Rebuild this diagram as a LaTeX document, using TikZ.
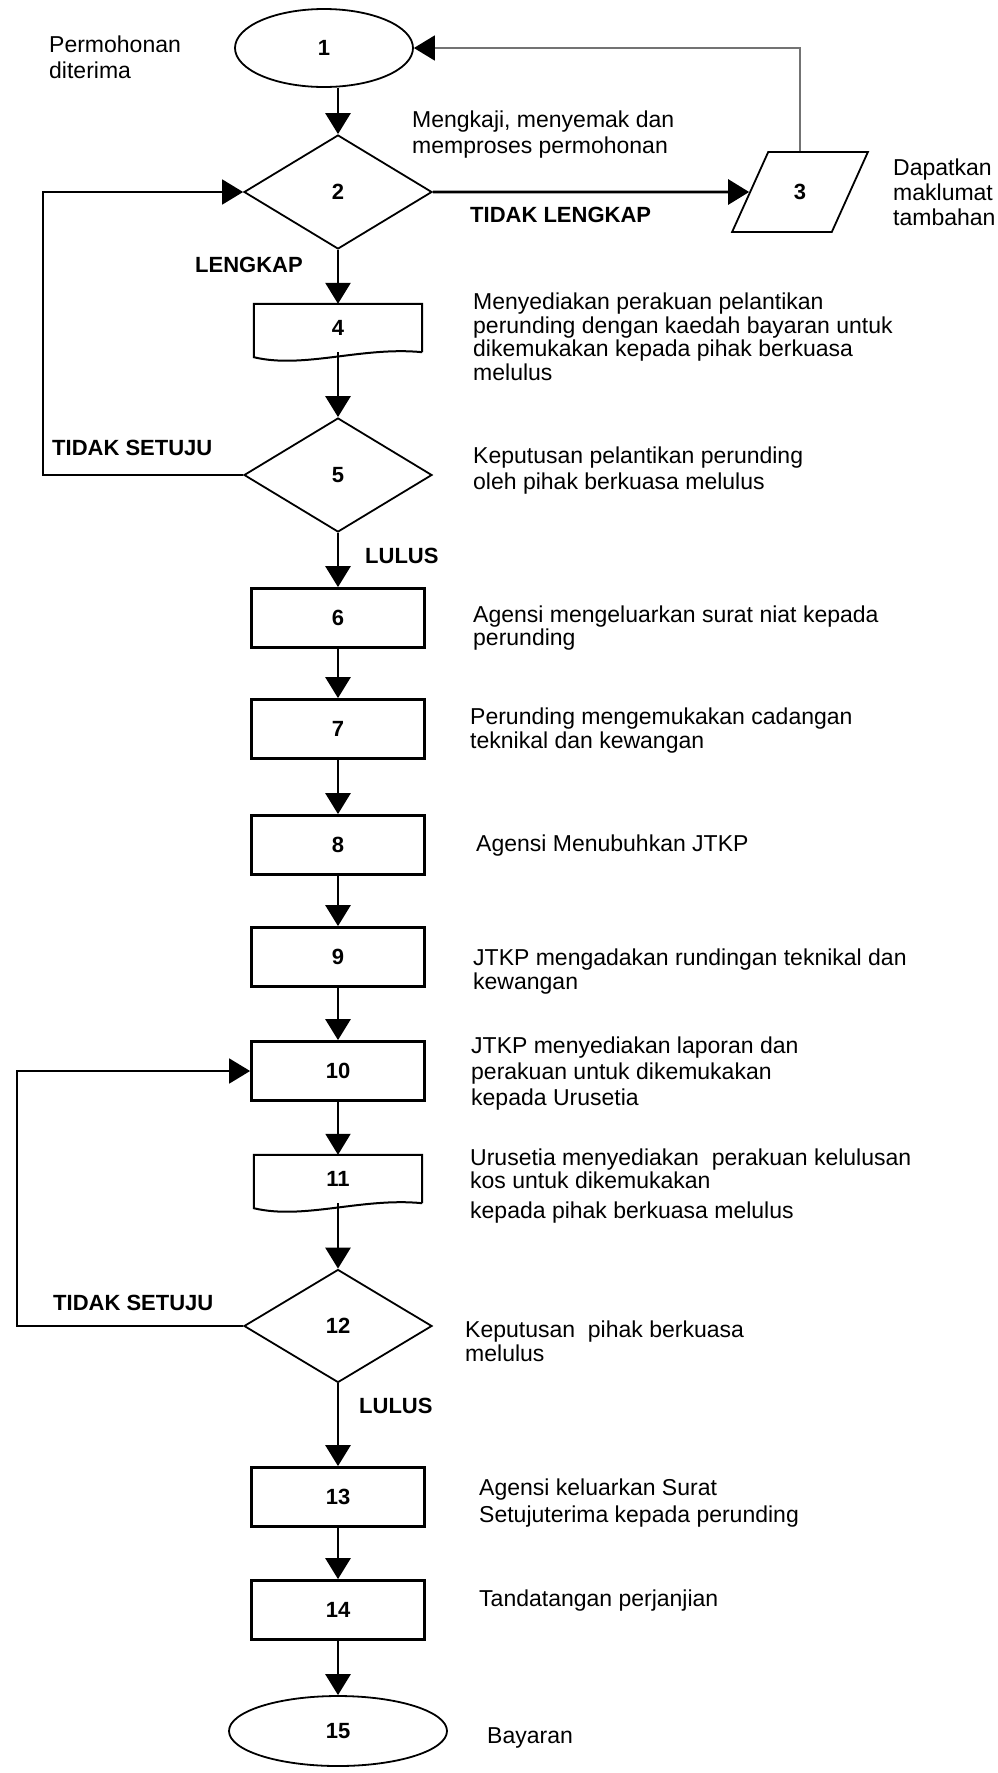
\documentclass[tikz,border=0pt]{standalone}
\usepackage{fontspec}
\setmainfont{Liberation Sans}
\usetikzlibrary{arrows.meta,shapes.geometric}

\begin{document}
\begin{tikzpicture}[x=1pt,y=-1pt,
  every node/.style={font=\fontsize{23}{25}\selectfont},
  num/.style={font=\fontsize{22}{22}\selectfont\bfseries},
  box/.style={num,draw,line width=2.8pt,minimum width=173pt,minimum height=59pt,inner sep=0pt},
  doc/.style={num,minimum width=168pt,minimum height=48pt,inner sep=0pt},
  decision/.style={num,draw,diamond,line width=1.8pt,minimum width=188pt,minimum height=114pt,inner sep=0pt},
  term/.style={num,draw,ellipse,line width=1.8pt,inner sep=0pt},
  para/.style={num,draw,trapezium,trapezium left angle=66,trapezium right angle=114,
    trapezium stretches=true,line width=1.8pt,minimum width=136pt,minimum height=80pt,inner sep=0pt},
  tip/.style={-{Triangle[length=21pt,width=25pt,color=black]}},
  flow/.style={tip,line width=2.8pt},
  back/.style={line width=1.8pt},
  desc/.style={anchor=west,align=left,inner sep=0pt},
  tag/.style={anchor=west,inner sep=0pt,font=\fontsize{22}{22}\selectfont\bfseries}]
\useasboundingbox (0,0) rectangle (998,1773);

% shapes
\node[term,minimum width=178pt,minimum height=78pt] (s1) at (324,48) {1};
\node[decision] (s2) at (338,192) {2};
\node[para] (s3) at (800,192) {3};
\node[doc] (s4) at (338,328) {4};
\node[decision] (s5) at (338,475) {5};
\node[box] (s6) at (338,618) {6};
\node[box] (s7) at (338,729) {7};
\node[box] (s8) at (338,845) {8};
\node[box] (s9) at (338,957) {9};
\node[box] (s10) at (338,1071) {10};
\node[doc] (s11) at (338,1179) {11};
\node[decision,minimum height=113pt] (s12) at (338,1326) {12};
\node[box] (s13) at (338,1497) {13};
\node[box] (s14) at (338,1610) {14};
\node[term,minimum width=218pt,minimum height=70pt] (s15) at (338,1731) {15};

% document outlines with wavy bottom
\draw[line width=2pt] (s4.south east) -- (s4.north east) -- (s4.north west) -- ([yshift=-5pt]s4.south west)
  .. controls +(50,12) and +(-60,-6) .. (s4.south east);
\draw[line width=2pt] (s11.south east) -- (s11.north east) -- (s11.north west) -- ([yshift=-5pt]s11.south west)
  .. controls +(50,12) and +(-60,-6) .. (s11.south east);

% connectors
\draw[flow] (s2.north |- s1.south) -- (s2.north);
\draw[flow] (s2) -- (s3);
\draw[back,black!55,tip] (s3.north) |- (s1.east);
\draw[flow] (s2) -- (s4);
\draw[flow] (s4) -- (s5);
\draw[back,tip] (s5.west) -- ++(-200,0) |- (s2.west);
\draw[flow] (s5) -- (s6);
\draw[flow] (s6) -- (s7);
\draw[flow] (s7) -- (s8);
\draw[flow] (s8) -- (s9);
\draw[flow] (s9) -- (s10);
\draw[flow,line width=2pt] (s10) -- (s11);
\draw[flow] (s11) -- (s12);
\draw[back,tip] (s12.west) -- ++(-226,0) |- (s10.west);
\draw[flow] (s12) -- (s13);
\draw[flow] (s13) -- (s14);
\draw[flow] (s14) -- (s15);

% labels on branches
\node[tag] (l1) at (470,215) {TIDAK LENGKAP};
\node[tag] (l2) at (195,265) {LENGKAP};
\node[tag] (l3) at (52,448) {TIDAK SETUJU};
\node[tag] (l4) at (365,556) {LULUS};
\node[tag] (l5) at (53,1303) {TIDAK SETUJU};
\node[tag] (l6) at (359,1406) {LULUS};

% descriptions
\node[desc,font=\fontsize{23}{26}\selectfont] (t1) at (49,57) {Permohonan\\diterima};
\node[desc,font=\fontsize{23}{26}\selectfont] (t2) at (412,135) {Mengkaji, menyemak dan\\memproses permohonan};
\node[desc] (t3) at (893,192) {Dapatkan\\maklumat\\tambahan};
\node[desc,font=\fontsize{23}{23.5}\selectfont] (t4) at (473,337) {Menyediakan perakuan pelantikan\\perunding dengan kaedah bayaran untuk\\dikemukakan kepada pihak berkuasa\\melulus};
\node[desc,font=\fontsize{23}{26}\selectfont] (t5) at (473,471) {Keputusan pelantikan perunding\\oleh pihak berkuasa melulus};
\node[desc,font=\fontsize{23}{23.5}\selectfont] (t6) at (473,628) {Agensi mengeluarkan surat niat kepada\\perunding};
\node[desc,font=\fontsize{23}{24}\selectfont] (t7) at (470,731) {Perunding mengemukakan cadangan\\teknikal dan kewangan};
\node[desc] (t8) at (476,846) {Agensi Menubuhkan JTKP};
\node[desc,font=\fontsize{23}{24}\selectfont] (t9) at (473,972) {JTKP mengadakan rundingan teknikal dan\\kewangan};
\node[desc,font=\fontsize{23}{26}\selectfont] (t10) at (471,1074) {JTKP menyediakan laporan dan\\perakuan untuk dikemukakan\\kepada Urusetia};
\node[desc,font=\fontsize{23}{23.5}\selectfont] (t11) at (470,1186) {Urusetia menyediakan\ \ perakuan kelulusan\\kos untuk dikemukakan\\[6pt]kepada pihak berkuasa melulus};
\node[desc,font=\fontsize{23}{24}\selectfont] (t12) at (465,1341) {Keputusan\ \ pihak berkuasa\\melulus};
\node[desc,font=\fontsize{23}{27}\selectfont] (t13) at (479,1503) {Agensi keluarkan Surat\\Setujuterima kepada perunding};
\node[desc] (t14) at (479,1601) {Tandatangan perjanjian};
\node[desc] (t15) at (487,1738) {Bayaran};
\end{tikzpicture}
\end{document}
